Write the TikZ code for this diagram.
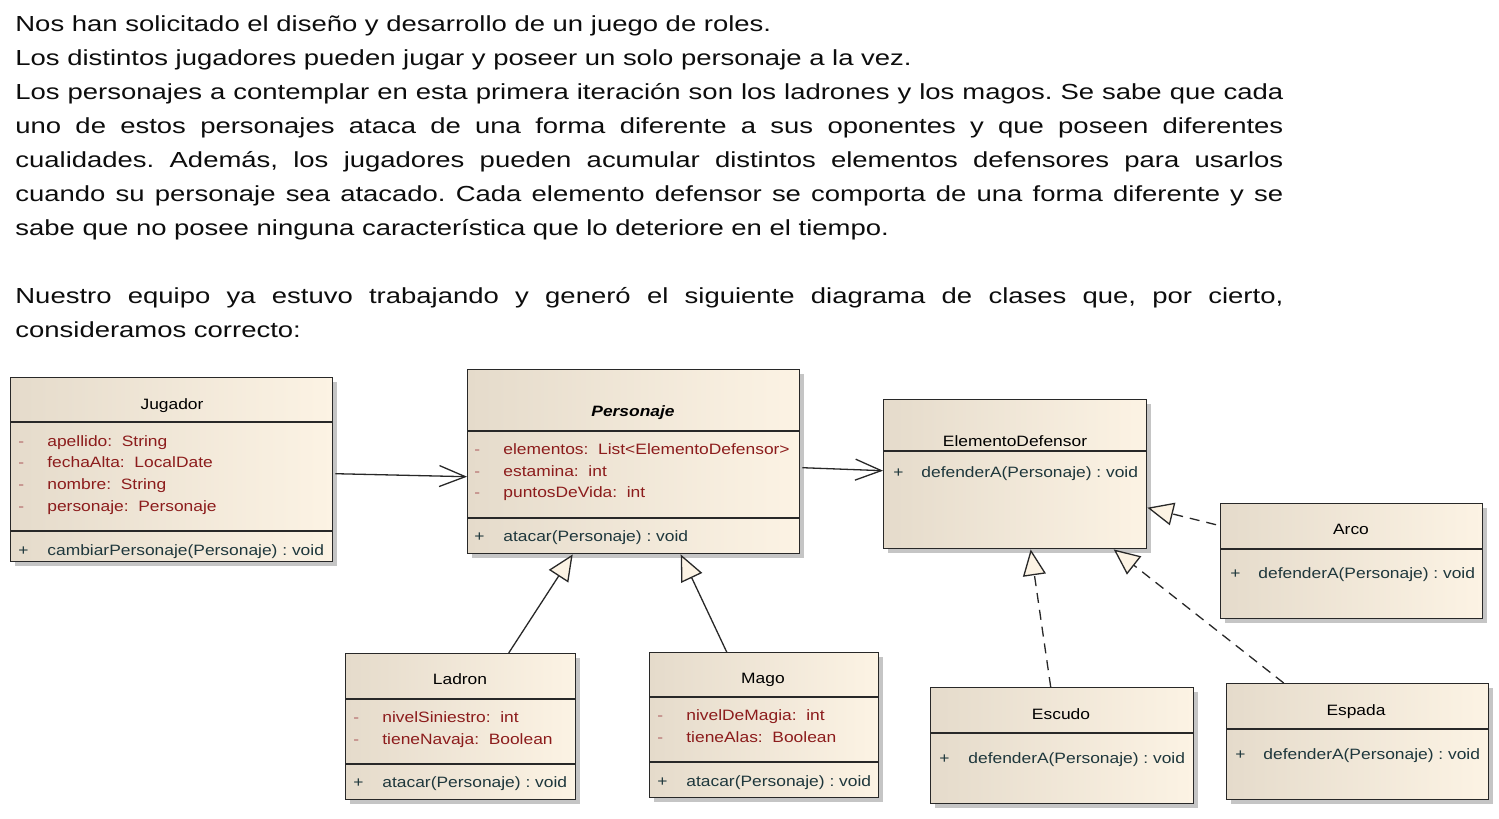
\documentclass[tikz,border=0pt]{standalone}
\usepackage{fontspec}
\setmainfont{Liberation Sans}[FakeStretch=1.26]
\newfontfamily\umlfont{Liberation Sans}[FakeStretch=1.16]
\usetikzlibrary{arrows.meta,shadows}
\frenchspacing

\definecolor{ealeft}{RGB}{229,219,203}
\definecolor{earight}{RGB}{252,243,228}
\definecolor{atrib}{RGB}{140,28,28}
\definecolor{oper}{RGB}{30,55,60}
\definecolor{borde}{RGB}{40,40,40}

\tikzset{
	clase/.style={draw=borde, line width=0.7pt, left color=ealeft, right color=earight,
		anchor=north west, inner sep=0pt,
		drop shadow={shadow xshift=2pt, shadow yshift=-2pt, fill=black!45, opacity=0.5}},
	sep/.style={draw=borde, line width=0.7pt},
	nombre/.style={font=\umlfont\fontsize{7.5}{9}\selectfont, inner sep=0pt,
		text height=6pt, text depth=1pt},
	atr/.style={nombre, anchor=west, text=atrib},
	marca/.style={nombre, anchor=west, text=atrib!65},
	op/.style={nombre, anchor=west, text=oper},
	asoc/.style={draw=borde, line width=0.65pt, -{Straight Barb[length=13pt,width=10.5pt]}},
	hereda/.style={draw=borde, line width=0.65pt, -{Triangle[length=13pt,width=11.5pt,fill=earight]}},
	realiza/.style={hereda, dash pattern=on 5pt off 3.5pt},
	enunciado/.style={anchor=north west, inner sep=0pt, align=left,
		font=\fontsize{10.9}{17}\selectfont, text=black!95},
}

\begin{document}
\begin{tikzpicture}[x=0.5pt, y=-0.5pt]
	\fill[white] (0,0) rectangle (1499,819);
	\useasboundingbox (0,0) rectangle (1499,819);

	\node[enunciado] (enun) at (15,15) {Nos han solicitado el diseño y desarrollo de un juego de roles.\\
		Los distintos jugadores pueden jugar y poseer un solo personaje a la vez.\\
		\makebox[634pt][s]{Los personajes a contemplar en esta primera iteración son los ladrones y los magos. Se sabe que cada}\\
		\makebox[634pt][s]{uno de estos personajes ataca de una forma diferente a sus oponentes y que poseen diferentes}\\
		\makebox[634pt][s]{cualidades. Además, los jugadores pueden acumular distintos elementos defensores para usarlos}\\
		\makebox[634pt][s]{cuando su personaje sea atacado. Cada elemento defensor se comporta de una forma diferente y se}\\
		sabe que no posee ninguna característica que lo deteriore en el tiempo.\\[17pt]
		\makebox[634pt][s]{Nuestro equipo ya estuvo trabajando y generó el siguiente diagrama de clases que, por cierto,}\\
		consideramos correcto:};

	% clases
	\node[clase, minimum width=161pt, minimum height=92pt] (jug) at (10,377) {};
	\node[clase, minimum width=166pt, minimum height=92pt] (per) at (467,369) {};
	\node[clase, minimum width=131.5pt, minimum height=74.5pt] (ele) at (883,399) {};
	\node[clase, minimum width=131pt, minimum height=57.5pt] (arc) at (1220,503) {};
	\node[clase, minimum width=115pt, minimum height=73pt] (lad) at (345,653) {};
	\node[clase, minimum width=114.5pt, minimum height=72.5pt] (mag) at (649,652) {};
	\node[clase, minimum width=131.5pt, minimum height=58pt] (esc) at (930,687) {};
	\node[clase, minimum width=131pt, minimum height=58pt] (esp) at (1226,683) {};

	\draw[sep] (jug.west |- 0,422) -- (jug.east |- 0,422);
	\draw[sep] (jug.west |- 0,531) -- (jug.east |- 0,531);
	\draw[sep] (per.west |- 0,431) -- (per.east |- 0,431);
	\draw[sep] (per.west |- 0,518) -- (per.east |- 0,518);
	\draw[sep] (ele.west |- 0,451) -- (ele.east |- 0,451);
	\draw[sep] (arc.west |- 0,549) -- (arc.east |- 0,549);
	\draw[sep] (lad.west |- 0,699) -- (lad.east |- 0,699);
	\draw[sep] (lad.west |- 0,764) -- (lad.east |- 0,764);
	\draw[sep] (mag.west |- 0,697) -- (mag.east |- 0,697);
	\draw[sep] (mag.west |- 0,762) -- (mag.east |- 0,762);
	\draw[sep] (esc.west |- 0,733) -- (esc.east |- 0,733);
	\draw[sep] (esp.west |- 0,729) -- (esp.east |- 0,729);

	% Jugador
	\node[nombre] (jugN) at (172,404) {Jugador};
	\node[marca] (jugM1) at (18,441) {-};
	\node[atr] (jugA1) at (47,441) {apellido:\ \ String};
	\node[marca] (jugM2) at (18,462) {-};
	\node[atr] (jugA2) at (47,462) {fechaAlta:\ \ LocalDate};
	\node[marca] (jugM3) at (18,484) {-};
	\node[atr] (jugA3) at (47,484) {nombre:\ \ String};
	\node[marca] (jugM4) at (18,506) {-};
	\node[atr] (jugA4) at (47,506) {personaje:\ \ Personaje};
	\node[op] (jugP1) at (18,550) {+};
	\node[op] (jugO1) at (47,550) {cambiarPersonaje(Personaje) : void};

	% Personaje
	\node[nombre, font=\umlfont\fontsize{7.5}{9}\selectfont\bfseries\itshape] (perN) at (633,411) {Personaje};
	\node[marca] (perM1) at (474,449) {-};
	\node[atr] (perA1) at (503,449) {elementos:\ \ List<ElementoDefensor>};
	\node[marca] (perM2) at (474,471) {-};
	\node[atr] (perA2) at (503,471) {estamina:\ \ int};
	\node[marca] (perM3) at (474,492) {-};
	\node[atr] (perA3) at (503,492) {puntosDeVida:\ \ int};
	\node[op] (perP1) at (474,536) {+};
	\node[op] (perO1) at (503,536) {atacar(Personaje) : void};

	% ElementoDefensor
	\node[nombre] (eleN) at (1015,441) {ElementoDefensor};
	\node[op] (eleP1) at (893,472) {+};
	\node[op] (eleO1) at (921,472) {defenderA(Personaje) : void};

	% Arco
	\node[nombre] (arcN) at (1351,529) {Arco};
	\node[op] (arcP1) at (1230,573) {+};
	\node[op] (arcO1) at (1258,573) {defenderA(Personaje) : void};

	% Ladron
	\node[nombre] (ladN) at (460,679) {Ladron};
	\node[marca] (ladM1) at (353,717) {-};
	\node[atr] (ladA1) at (382,717) {nivelSiniestro:\ \ int};
	\node[marca] (ladM2) at (353,739) {-};
	\node[atr] (ladA2) at (382,739) {tieneNavaja:\ \ Boolean};
	\node[op] (ladP1) at (353,782) {+};
	\node[op] (ladO1) at (382,782) {atacar(Personaje) : void};

	% Mago
	\node[nombre] (magN) at (763,678) {Mago};
	\node[marca] (magM1) at (657,715) {-};
	\node[atr] (magA1) at (686,715) {nivelDeMagia:\ \ int};
	\node[marca] (magM2) at (657,737) {-};
	\node[atr] (magA2) at (686,737) {tieneAlas:\ \ Boolean};
	\node[op] (magP1) at (657,781) {+};
	\node[op] (magO1) at (686,781) {atacar(Personaje) : void};

	% Escudo
	\node[nombre] (escN) at (1061,714) {Escudo};
	\node[op] (escP1) at (939,758) {+};
	\node[op] (escO1) at (968,758) {defenderA(Personaje) : void};

	% Espada
	\node[nombre] (espN) at (1356,710) {Espada};
	\node[op] (espP1) at (1235,754) {+};
	\node[op] (espO1) at (1263,754) {defenderA(Personaje) : void};

	% relaciones
	\draw[asoc] ([xshift=1pt, yshift=-2pt]jug.east) -- ([yshift=-7.5pt]per.west);
	\draw[asoc] ([xshift=1pt, yshift=-3pt]per.east) -- ([yshift=1.75pt]ele.west);
	\draw[hereda] ([xshift=24pt]lad.north) -- ([xshift=-30.5pt]per.south);
	\draw[hereda] ([xshift=-18.75pt]mag.north) -- ([xshift=23.5pt]per.south);
	\draw[realiza] ([xshift=-5.75pt]esc.north) -- ([xshift=7.75pt]ele.south);
	\draw[realiza] ([xshift=-37pt]esp.north) -- ([xshift=49.25pt]ele.south);
	\draw[realiza] ([xshift=-2pt, yshift=18.25pt]arc.west) -- ([yshift=-16.75pt]ele.east);
\end{tikzpicture}
\end{document}
